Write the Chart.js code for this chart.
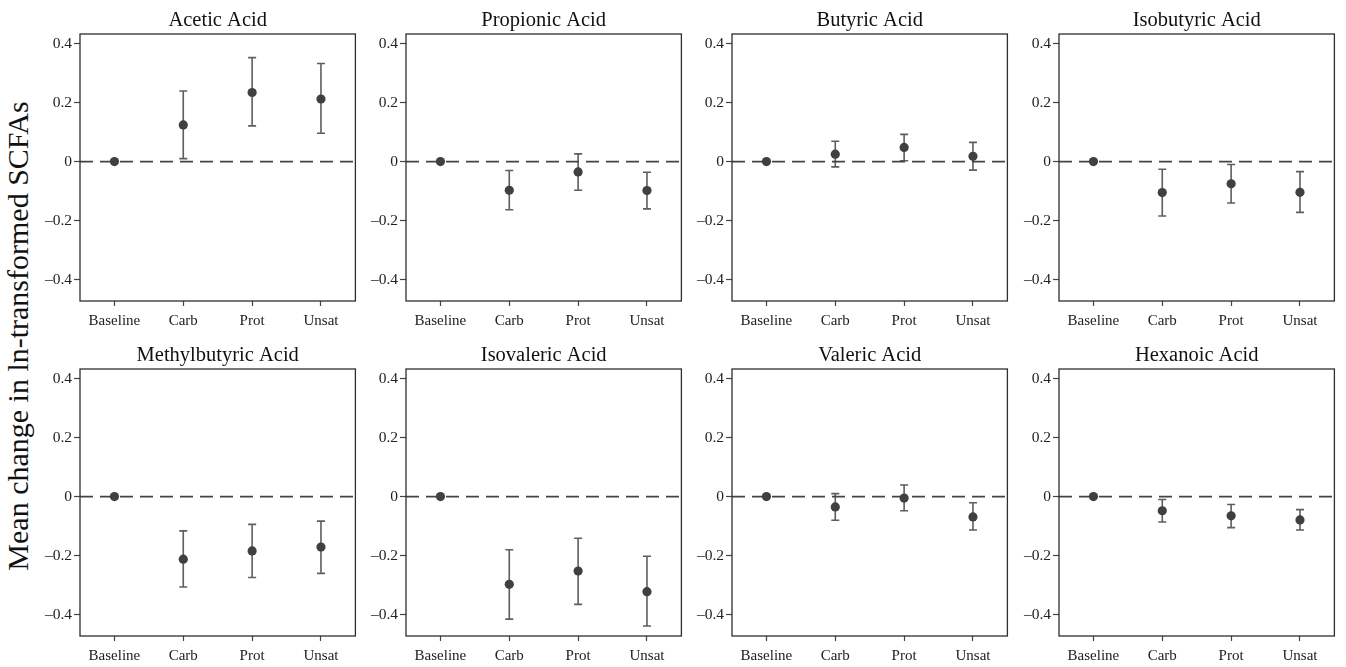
<!DOCTYPE html>
<html>
<head>
<meta charset="utf-8">
<script src="https://cdn.jsdelivr.net/npm/chart.js@4.4.1/dist/chart.umd.min.js"></script>
<style>
  html, body { margin: 0; padding: 0; background: #ffffff; }
  #wrap { position: relative; width: 1346px; height: 667px; overflow: hidden; background: #fff; }
  canvas { position: absolute; }
  #ytitle {
    position: absolute; left: 18px; top: 336px;
    transform: translate(-50%, -50%) rotate(-90deg);
    font-family: "Liberation Serif", "Times New Roman", serif;
    font-size: 30px; line-height: 30px; white-space: nowrap; color: #111;
  }
</style>
</head>
<body>
<div id="wrap">
  <div id="ytitle">Mean change in ln-transformed SCFAs</div>
</div>
<script>
// ---- data ----
const categories = ['Baseline', 'Carb', 'Prot', 'Unsat'];
const yTickValues = [-0.4, -0.2, 0, 0.2, 0.4];
const acidNames = ['Acetic Acid', 'Propionic Acid', 'Butyric Acid', 'Isobutyric Acid',
                   'Methylbutyric Acid', 'Isovaleric Acid', 'Valeric Acid', 'Hexanoic Acid'];

const meanAcetic = [0, 0.124, 0.234, 0.212];
const lowAcetic  = [null, 0.010, 0.121, 0.096];
const highAcetic = [null, 0.239, 0.352, 0.332];

const meanPropionic = [0, -0.097, -0.035, -0.098];
const lowPropionic  = [null, -0.163, -0.097, -0.160];
const highPropionic = [null, -0.030, 0.026, -0.036];

const meanButyric = [0, 0.025, 0.048, 0.018];
const lowButyric  = [null, -0.018, 0.003, -0.029];
const highButyric = [null, 0.069, 0.092, 0.065];

const meanIsobutyric = [0, -0.105, -0.075, -0.104];
const lowIsobutyric  = [null, -0.184, -0.140, -0.172];
const highIsobutyric = [null, -0.026, -0.010, -0.034];

const meanMethylbutyric = [0, -0.212, -0.184, -0.171];
const lowMethylbutyric  = [null, -0.306, -0.274, -0.260];
const highMethylbutyric = [null, -0.116, -0.094, -0.083];

const meanIsovaleric = [0, -0.297, -0.252, -0.322];
const lowIsovaleric  = [null, -0.415, -0.365, -0.438];
const highIsovaleric = [null, -0.180, -0.141, -0.202];

const meanValeric = [0, -0.035, -0.005, -0.069];
const lowValeric  = [null, -0.080, -0.048, -0.113];
const highValeric = [null, 0.010, 0.039, -0.021];

const meanHexanoic = [0, -0.048, -0.065, -0.079];
const lowHexanoic  = [null, -0.086, -0.105, -0.113];
const highHexanoic = [null, -0.010, -0.027, -0.044];

// ---- layout ----
const panelMeans = [meanAcetic, meanPropionic, meanButyric, meanIsobutyric,
                    meanMethylbutyric, meanIsovaleric, meanValeric, meanHexanoic];
const panelLows = [lowAcetic, lowPropionic, lowButyric, lowIsobutyric,
                   lowMethylbutyric, lowIsovaleric, lowValeric, lowHexanoic];
const panelHighs = [highAcetic, highPropionic, highButyric, highIsobutyric,
                    highMethylbutyric, highIsovaleric, highValeric, highHexanoic];

const FONT = '"Liberation Serif", "Times New Roman", serif';
const Y_AXIS_W = 46, TITLE_H = 34, X_AXIS_H = 35, PLOT_W = 279, PLOT_H = 267;
const colLefts = [34, 360, 686, 1013];
const rowTops = [0, 335];

const errorBarPlugin = {
  id: 'errorBars',
  beforeDatasetsDraw(chart, args, opts) {
    const xs = chart.scales.x, ys = chart.scales.y, ctx = chart.ctx;
    ctx.save();
    ctx.strokeStyle = '#5e5e5e';
    ctx.lineWidth = 1.6;
    opts.lo.forEach((lo, i) => {
      const hi = opts.hi[i];
      if (lo === null || hi === null) return;
      const x = xs.getPixelForValue(i);
      const y1 = ys.getPixelForValue(lo);
      const y2 = ys.getPixelForValue(hi);
      ctx.beginPath();
      ctx.moveTo(x, y1); ctx.lineTo(x, y2);
      ctx.moveTo(x - 4, y1); ctx.lineTo(x + 4, y1);
      ctx.moveTo(x - 4, y2); ctx.lineTo(x + 4, y2);
      ctx.stroke();
    });
    ctx.restore();
  },
  afterDatasetsDraw(chart) {
    const a = chart.chartArea, ctx = chart.ctx;
    ctx.save();
    ctx.strokeStyle = '#2e2e2e';
    ctx.lineWidth = 1.3;
    ctx.strokeRect(a.left, a.top, a.right - a.left, a.bottom - a.top);
    ctx.restore();
  }
};

const wrap = document.getElementById('wrap');
acidNames.forEach((name, p) => {
  const cv = document.createElement('canvas');
  const w = Y_AXIS_W + PLOT_W + 1, h = TITLE_H + PLOT_H + X_AXIS_H;
  cv.width = w; cv.height = h;
  cv.style.width = w + 'px'; cv.style.height = h + 'px';
  cv.style.left = colLefts[p % 4] + 'px';
  cv.style.top = rowTops[Math.floor(p / 4)] + 'px';
  wrap.appendChild(cv);

  new Chart(cv, {
    type: 'scatter',
    data: {
      datasets: [
        {
          type: 'line',
          data: [{ x: -0.5, y: 0 }, { x: 3.5, y: 0 }],
          borderColor: '#444', borderWidth: 1.8, borderDash: [13, 7],
          pointRadius: 0, order: 2
        },
        {
          type: 'scatter',
          data: panelMeans[p].map((m, i) => ({ x: i, y: m })),
          backgroundColor: '#404040', borderColor: '#404040',
          pointRadius: 4.6, borderWidth: 0, order: 1
        }
      ]
    },
    options: {
      responsive: false, animation: false, devicePixelRatio: 1,
      layout: { padding: { left: 0, right: 1, top: 0, bottom: 0 } },
      plugins: {
        legend: { display: false },
        tooltip: { enabled: false },
        title: {
          display: true, text: name, color: '#111', fullSize: false,
          font: { family: FONT, size: 20.5, weight: 'normal', lineHeight: 24 / 20.5 },
          padding: { top: 9, bottom: 1 }
        },
        errorBars: { lo: panelLows[p], hi: panelHighs[p] }
      },
      scales: {
        x: {
          type: 'linear', min: -0.5, max: 3.5,
          afterBuildTicks: s => { s.ticks = categories.map((c, i) => ({ value: i })); },
          afterFit: s => { s.height = X_AXIS_H; },
          ticks: {
            callback: v => categories[v], color: '#222', padding: 6,
            font: { family: FONT, size: 15 }, maxRotation: 0, autoSkip: false
          },
          grid: { drawOnChartArea: false, drawTicks: true, tickLength: 5, tickColor: '#444', tickWidth: 1.2 },
          border: { display: false }
        },
        y: {
          type: 'linear', min: -0.472, max: 0.432,
          afterBuildTicks: s => { s.ticks = yTickValues.map(v => ({ value: v })); },
          afterFit: s => { s.width = Y_AXIS_W; },
          ticks: {
            callback: v => (v === 0 ? '0' : (v < 0 ? '\u2013' : '') + Math.abs(v).toFixed(1)),
            color: '#222', padding: 2, font: { family: FONT, size: 15.5 }
          },
          grid: { drawOnChartArea: false, drawTicks: true, tickLength: 6, tickColor: '#444', tickWidth: 1.2 },
          border: { display: false }
        }
      }
    },
    plugins: [errorBarPlugin]
  });
});
</script>
</body>
</html>
